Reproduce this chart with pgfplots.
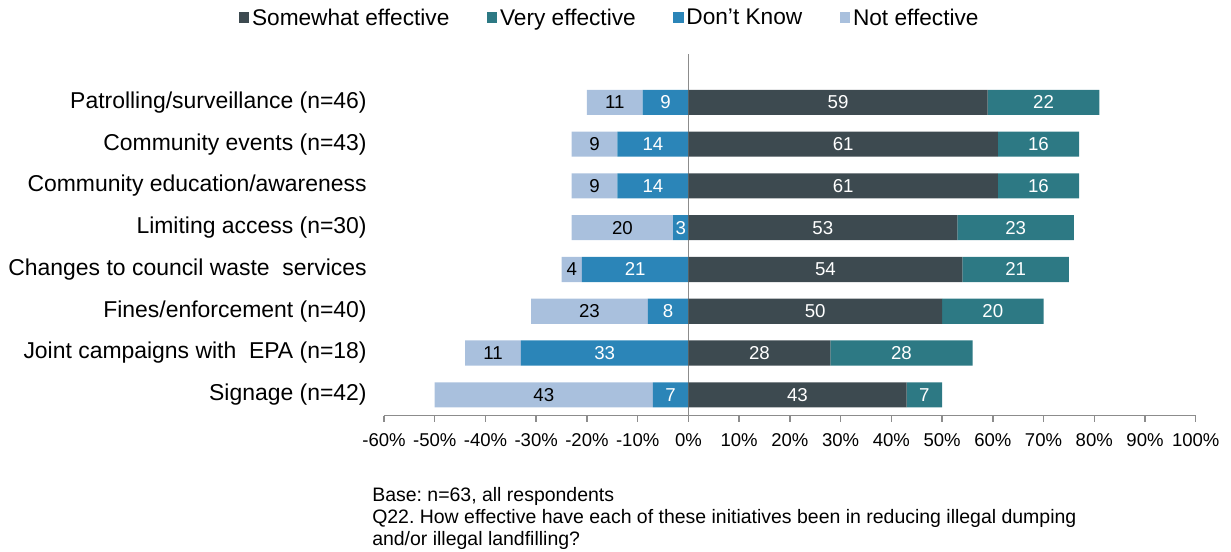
\documentclass[border=0pt]{standalone}
\usepackage{fontspec}
\setmainfont{Liberation Sans}
\usepackage{pgfplots}
\pgfplotsset{compat=1.18}
\usepackage{pgfplotstable}

\definecolor{somew}{HTML}{3D4A50}
\definecolor{verye}{HTML}{2D7984}
\definecolor{dknow}{HTML}{2B85B8}
\definecolor{noteff}{HTML}{A9C0DD}
\definecolor{axgray}{HTML}{8C8C8C}

% rows from bottom (Signage) to top (Patrolling)
\pgfplotstableread{
pos ne dk sw ve
0 43 7 43 7
1 11 33 28 28
2 23 8 50 20
3 4 21 54 21
4 20 3 53 23
5 9 14 61 16
6 9 14 61 16
7 11 9 59 22
}\effdata

\pgfplotsset{
  base/.style={
    scale only axis, width=608.8pt, height=271.3pt,
    xmin=-60, xmax=100, ymin=-0.5, ymax=8.16,
    xbar stacked, bar width=18.8pt, clip=false,
    /pgf/number format/assume math mode=true,
    nodes near coords,
    nodes near coords style={font=\fontsize{14}{16}\selectfont, anchor=center},
  },
}

\begin{document}
\begin{tikzpicture}
% left side: Don't Know next to zero, Not effective further out
\begin{axis}[base, hide axis]
\addplot[fill=dknow, draw=none, point meta=\thisrow{dk},
  every node near coord/.append style={text=white}]
  table[x expr=-\thisrow{dk}, y=pos]{\effdata};
\addplot[fill=noteff, draw=none, point meta=\thisrow{ne},
  every node near coord/.append style={text=black}]
  table[x expr=-\thisrow{ne}, y=pos]{\effdata};
\end{axis}
% right side
\begin{axis}[base,
  axis x line*=bottom, axis y line*=left,
  y axis line style={draw=none}, ytick style={draw=none},
  x axis line style={axgray, line width=1.1pt},
  xtick style={axgray, line width=1.1pt},
  tick align=outside, major tick length=4.5pt,
  xtick={-60,-50,...,100},
  xticklabels={-60\%,-50\%,-40\%,-30\%,-20\%,-10\%,0\%,10\%,20\%,30\%,40\%,50\%,60\%,70\%,80\%,90\%,100\%},
  xticklabel style={font=\fontsize{13.9}{16}\selectfont, yshift=-5.5pt},
  ytick={0,...,7},
  yticklabels={Signage (n=42),Joint campaigns with\ \ EPA (n=18),Fines/enforcement (n=40),
    Changes to council waste\ \ services,Limiting access (n=30),Community education/awareness,
    Community events (n=43),Patrolling/surveillance (n=46)},
  yticklabel style={font=\fontsize{17.2}{20}\selectfont, xshift=-5pt},
  legend columns=4,
  legend style={draw=none, at={(0.2784,1.0995)}, anchor=center,
    font=\fontsize{17}{20}\selectfont,
    /tikz/every even column/.append style={column sep=26pt}},
  legend image code/.code={\fill[#1] (0pt,-3.5pt) rectangle (8pt,4.5pt);},
]
\addplot[fill=somew, draw=none, point meta=\thisrow{sw},
  every node near coord/.append style={text=white}]
  table[x=sw, y=pos]{\effdata};
\addplot[fill=verye, draw=none, point meta=\thisrow{ve},
  every node near coord/.append style={text=white}]
  table[x=ve, y=pos]{\effdata};
\addlegendentry{Somewhat effective}
\addlegendentry{Very effective}
\addlegendimage{fill=dknow, draw=none}
\addlegendentry{Don’t Know}
\addlegendimage{fill=noteff, draw=none}
\addlegendentry{Not effective}
\draw[axgray, line width=1.1pt] (axis cs:0,-0.5) -- (axis cs:0,8.16);
\end{axis}
\node[anchor=north west, align=left, inner sep=0pt, font=\fontsize{14.6}{16.5}\selectfont\frenchspacing]
  at ([shift={(-9pt,-53.5pt)}]current axis.south west)
  {Base: n=63, all respondents\\
   Q22. How effective have each of these initiatives been in reducing illegal dumping\\
   and/or illegal landfilling?};
\pgfresetboundingbox
\path[use as bounding box] ([shift={(-288pt,-101.5pt)}]current axis.south west) rectangle ++(923.25pt,413.25pt);
\end{tikzpicture}
\end{document}
